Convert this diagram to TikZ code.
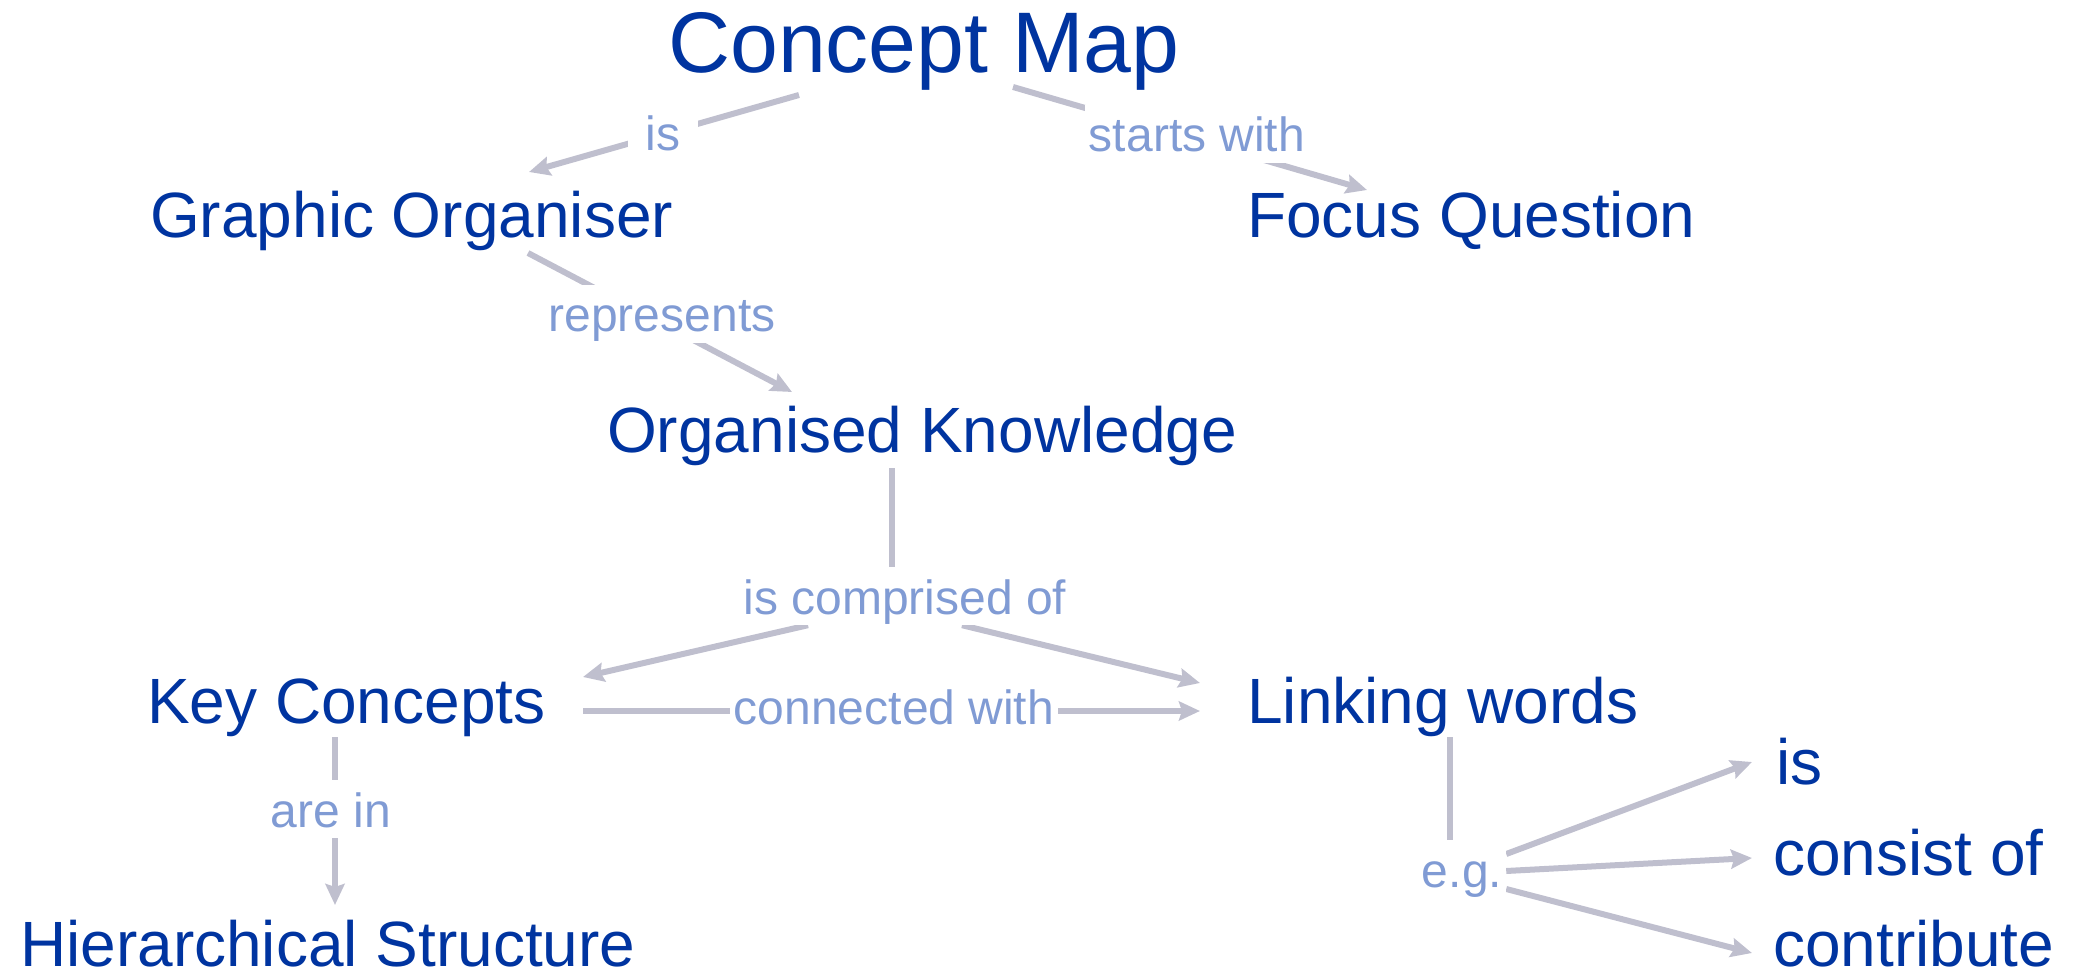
\documentclass[tikz,border=0pt]{standalone}
\usepackage{fontspec}
\setmainfont{Liberation Sans}
\usetikzlibrary{arrows.meta}
\pgfdeclarelayer{background}
\pgfsetlayers{background,main}
\definecolor{nodeblue}{RGB}{0,52,160}
\definecolor{lblblue}{RGB}{128,155,212}
\definecolor{linkgray}{RGB}{191,191,206}
\begin{document}
\begin{tikzpicture}[x=1pt,y=-1pt,
  concept/.style={anchor=base west, inner sep=0pt, text=nodeblue, font=\fontsize{64pt}{70pt}\selectfont},
  titlenode/.style={concept, font=\fontsize{86pt}{94pt}\selectfont},
  lbl/.style={anchor=base, fill=white, text=lblblue, font=\fontsize{48pt}{54pt}\selectfont, text height=45pt, text depth=9pt, inner xsep=4pt, inner ysep=2pt},
  link/.style={draw=linkgray, line width=6pt},
  arr/.style={link, -{Stealth[length=21pt,width=19pt,inset=3pt]}}]
\path[use as bounding box] (0,0) rectangle (2075,973);
% concepts
\node[titlenode] (cm) at (668,73) {Concept Map};
\node[concept] (go) at (150,238) {Graphic Organiser};
\node[concept] (fq) at (1247,238) {Focus Question};
\node[concept] (ok) at (607,452) {Organised Knowledge};
\node[concept] (kc) at (147,723) {Key Concepts};
\node[concept] (lw) at (1247,723) {Linking words};
\node[concept] (hs) at (20,966) {Hierarchical Structure};
\node[concept] (wis) at (1776,784) {is};
\node[concept] (wco) at (1773,875) {consist of};
\node[concept] (wct) at (1773,966) {contribute};
% labels
\node[lbl, inner xsep=18pt] (lis) at (663,151) {is};
\node[lbl] (lsw) at (1197,152) {starts with};
\node[lbl] (lre) at (662,332) {represents};
\node[lbl] (lco) at (905,614) {is comprised of};
\node[lbl] (lcw) at (894,724) {connected with};
\node[lbl] (lai) at (331,827) {are in};
\node[lbl] (leg) at (1462,887) {e.g.};
% connector ends
\coordinate (cm1) at (799,95);
\coordinate (go1) at (529,172);
\coordinate (cm2) at (1013,87);
\coordinate (fq1) at (1367,190);
\coordinate (go2) at (528,253);
\coordinate (ok1) at (792,392);
\coordinate (ok2) at (892,468);
\coordinate (kc1) at (583,677);
\coordinate (lw1) at (1200,683);
\coordinate (kc2) at (583,711);
\coordinate (lw2) at (1200,711);
\coordinate (kc3) at (335,737);
\coordinate (hs1) at (335,905);
\coordinate (lw3) at (1450,737);
\coordinate (w1) at (1752,762);
\coordinate (w2) at (1752,858);
\coordinate (w3) at (1752,953);
% connectors (behind the white label boxes)
\begin{pgfonlayer}{background}
\draw[arr] (cm1) -- (go1);
\draw[arr] (cm2) -- (fq1);
\draw[arr] (go2) -- (ok1);
\draw[link] (ok2) -- (ok2 |- lco.center);
\draw[arr] ([xshift=-97pt]lco.south) -- (kc1);
\draw[arr] ([xshift=57pt]lco.south) -- (lw1);
\draw[arr] (kc2) -- (lw2);
\draw[arr] (kc3) -- (hs1);
\draw[link] (lw3) -- (lw3 |- leg.center);
\draw[arr] ([yshift=15pt]leg.east) -- (w1);
\draw[arr] ([yshift=-2pt]leg.east) -- (w2);
\draw[arr] ([yshift=-20pt]leg.east) -- (w3);
\end{pgfonlayer}
\end{tikzpicture}
\end{document}
